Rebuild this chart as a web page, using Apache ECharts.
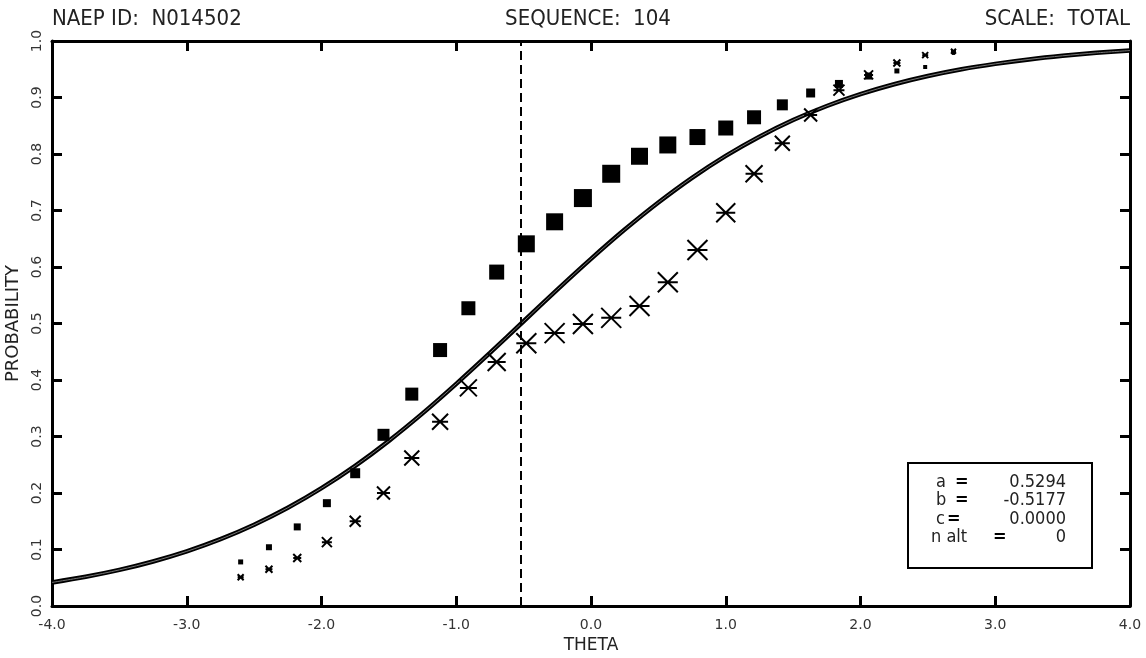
<!DOCTYPE html>
<html>
<head>
<meta charset="utf-8">
<script src="https://cdn.jsdelivr.net/npm/echarts@6/dist/echarts.min.js"></script>
<style>
html,body{margin:0;padding:0;background:#fff;}
#chart{width:1146px;height:658px;}
</style>
</head>
<body>
<div id="chart"></div>
<script>
// ---- data ----
const thetas = [-2.60,-2.39,-2.18,-1.96,-1.75,-1.54,-1.33,-1.12,-0.91,-0.70,-0.48,-0.27,-0.06,0.15,0.36,0.57,0.79,1.00,1.21,1.42,1.63,1.84,2.06,2.27,2.48,2.69];
const squareP = [0.078,0.104,0.140,0.182,0.235,0.303,0.375,0.453,0.527,0.591,0.641,0.680,0.722,0.765,0.796,0.816,0.830,0.846,0.865,0.887,0.908,0.924,0.938,0.947,0.954,0.978];
const squareN = [5,6,7,8,10,12,13,14,14,15,17,17,18,18,17,17,16,15,14,11,9,8,7,5,4,3];
const starP = [0.051,0.065,0.085,0.113,0.150,0.200,0.262,0.326,0.386,0.432,0.465,0.483,0.499,0.510,0.531,0.573,0.630,0.696,0.765,0.819,0.869,0.913,0.940,0.961,0.975,0.982];
const starN = [6,7,8,10,11,13,15,16,17,18,20,20,20,20,20,20,20,19,17,15,13,11,9,7,6,5];
const curveTheta = [-4,-3.75,-3.5,-3.25,-3,-2.75,-2.5,-2.25,-2,-1.75,-1.5,-1.25,-1,-0.75,-0.5,-0.25,0,0.25,0.5,0.75,1,1.25,1.5,1.75,2,2.25,2.5,2.75,3,3.25,3.5,3.75,4];
const curveP = [0.0417,0.0517,0.0639,0.0788,0.0967,0.1182,0.1438,0.1738,0.2085,0.2480,0.2923,0.3409,0.3932,0.4479,0.5040,0.5600,0.6144,0.6662,0.7142,0.7579,0.7967,0.8307,0.8601,0.8850,0.9060,0.9235,0.9380,0.9499,0.9595,0.9674,0.9738,0.9790,0.9831];
const bParam = -0.5177;
const paramNames = ["a", "b", "c", "n alt"];
const paramValues = ["0.5294", "-0.5177", "0.0000", "0"];
const titleLeft = "NAEP ID:  N014502";
const titleCenter = "SEQUENCE:  104";
const titleRight = "SCALE:  TOTAL";
// --------------------------------------

const FONT = "'DejaVu Sans Condensed','DejaVu Sans',sans-serif";
const TFONT = "'DejaVu Sans','Liberation Sans',sans-serif";
const chart = echarts.init(document.getElementById('chart'), null, {renderer:'canvas'});

const curveData = curveTheta.map((t,i)=>[t, curveP[i]]);
const sqData = thetas.map((t,i)=>({value:[t, squareP[i]], symbolSize: squareN[i]}));
const stData = thetas.map((t,i)=>({value:[t, starP[i]], symbolSize: starN[i]}));

const axisCommon = {
  axisLine:{show:true, onZero:false, lineStyle:{color:'#000', width:3}},
  axisTick:{show:true, inside:true, length:10, lineStyle:{color:'#000', width:3}},
  splitLine:{show:false}
};

const GL = 52, GR = 1130, GT = 41, GB = 606;

const graphics = [
  {type:'text', x:52, y:8, style:{text:titleLeft, font:"22px "+FONT, fill:'#222'}},
  {type:'text', x:588, y:8, style:{text:titleCenter, font:"22px "+FONT, fill:'#222', textAlign:'center'}},
  {type:'text', x:1130, y:8, style:{text:titleRight, font:"22px "+FONT, fill:'#222', textAlign:'right'}},
  {type:'rect', shape:{x:908, y:463, width:184, height:105}, style:{fill:'#fff', stroke:'#000', lineWidth:2}, z:10}
];
const nameX = [936, 936, 936, 931];
const eqX = [955, 955, 947, 993];
paramNames.forEach((lab,i)=>{
  const y = 482 + i*18.5;
  graphics.push({type:'text', x:nameX[i], y:y, z:11, style:{text:lab, font:"18px "+FONT, fill:'#222', textVerticalAlign:'middle'}});
  graphics.push({type:'text', x:eqX[i], y:y, z:11, style:{text:'=', font:"bold 18px "+FONT, fill:'#000', textVerticalAlign:'middle'}});
  graphics.push({type:'text', x:1066, y:y, z:11, style:{text:paramValues[i], font:"18px "+FONT, fill:'#222', textAlign:'right', textVerticalAlign:'middle'}});
});

chart.setOption({
  animation:false,
  backgroundColor:'#fff',
  grid:{left:GL, right:1146-GR, top:GT, bottom:658-GB, containLabel:false, outerBoundsMode:'none'},
  xAxis:[
    Object.assign({type:'value', min:-4, max:4, interval:1, position:'bottom',
      name:'THETA', nameLocation:'middle', nameGap:31,
      nameTextStyle:{fontFamily:TFONT, fontSize:17, color:'#222'},
      axisLabel:{show:true, margin:12, fontFamily:TFONT, fontSize:14, color:'#333',
        formatter:v=>v.toFixed(1)}}, axisCommon),
    Object.assign({type:'value', min:-4, max:4, interval:1, position:'top', axisLabel:{show:false}}, axisCommon)
  ],
  yAxis:[
    Object.assign({type:'value', min:0, max:1, interval:0.1, position:'left',
      name:'PROBABILITY', nameLocation:'middle', nameGap:30, nameRotate:90,
      nameTextStyle:{fontFamily:TFONT, fontSize:18, color:'#222'},
      axisLabel:{show:true, rotate:90, margin:8, fontFamily:TFONT, fontSize:14, color:'#333',
        formatter:v=>v.toFixed(1)}}, axisCommon),
    Object.assign({type:'value', min:0, max:1, interval:0.1, position:'right', axisLabel:{show:false}}, axisCommon)
  ],
  series:[
    {type:'line', data:curveData, showSymbol:false, symbol:'none', smooth:0.3,
      lineStyle:{color:'#000', width:4.5}, z:2,
      markLine:{silent:true, symbol:'none', label:{show:false},
        lineStyle:{color:'#000', width:2, type:[9,5]},
        data:[{xAxis:bParam}]}},
    {type:'line', data:curveData, showSymbol:false, symbol:'none', smooth:0.3,
      lineStyle:{color:'#777', width:1}, z:3},
    {type:'scatter', data:sqData, symbol:'rect', itemStyle:{color:'#000', opacity:1}, z:4},
    {type:'scatter', data:stData, symbol:'path://M0,0L10,10M10,0L0,10M0,5L10,5',
      itemStyle:{color:'rgba(0,0,0,0)', borderColor:'#000', borderWidth:2, opacity:1}, z:5}
  ],
  graphic:graphics
});
</script>
</body>
</html>
